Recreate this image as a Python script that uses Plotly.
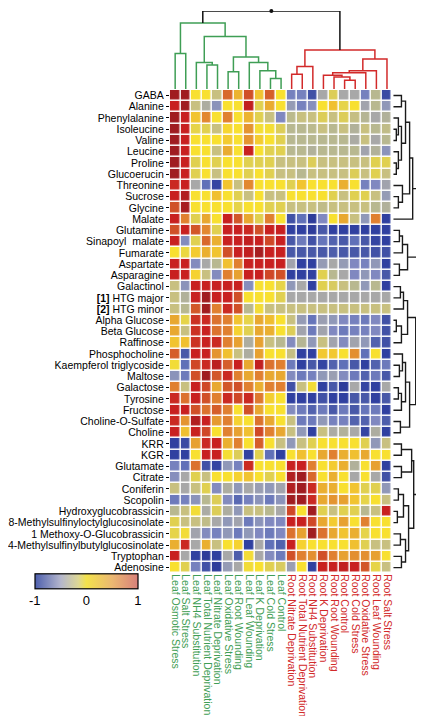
import plotly.graph_objects as go

W, H = 424, 716

# ---------------- data ----------------
conditions = [
    "Leaf Osmotic Stress", "Leaf Salt Stress", "Leaf NH4 Substitution",
    "Leaf Total Nutrient Deprivation", "Leaf Nitrate Deprivation",
    "Leaf Oxidative Stress", "Leaf Root Wounding", "Leaf Leaf Wounding",
    "Leaf K Deprivation", "Leaf Cold Stress", "Leaf Control",
    "Root Nitrate Deprivation", "Root Total Nutrient Deprivation",
    "Root NH4 Substitution", "Root K Deprivation", "Root Root Wounding",
    "Root Control", "Root Cold Stress", "Root Oxidative Stress",
    "Root Leaf Wounding", "Root Salt Stress",
]

metabolites = [
    "GABA", "Alanine", "Phenylalanine", "Isoleucine", "Valine", "Leucine",
    "Proline", "Glucoerucin", "Threonine", "Sucrose", "Glycine", "Malate",
    "Glutamine", "Sinapoyl  malate", "Fumarate", "Aspartate", "Asparagine",
    "Galactinol", "<b>[1]</b> HTG major", "<b>[2]</b> HTG minor",
    "Alpha Glucose", "Beta Glucose", "Raffinose", "Phosphocholine",
    "Kaempferol triglycoside", "Maltose", "Galactose", "Tyrosine",
    "Fructose", "Choline-O-Sulfate", "Choline", "KRR", "KGR", "Glutamate",
    "Citrate", "Coniferin", "Scopolin", "Hydroxyglucobrassicin",
    "8-Methylsulfinyloctylglucosinolate", "1 Methoxy-O-Glucobrassicin",
    "4-Methylsulfinylbutylglucosinolate", "Tryptophan", "Adenosine",
]

values = [
    [1.0, 1.0, 0.05, 0.05, -0.2, 0.65, 0.35, 0.72, 0.25, 0.68, 0.05, -0.65, -0.65, -0.85, -0.42, -0.1, -0.42, -0.42, -0.65, -0.3, -0.88],
    [0.88, 1.0, -0.2, -0.38, -0.55, 0.05, 0.05, 0.9, -0.08, 0.4, 0.05, -0.5, -0.65, -0.58, 0.05, 0.28, -0.05, 0.05, -0.45, -0.3, -0.52],
    [1.0, 0.88, 0.25, 0.55, 0.05, 0.58, 0.05, 0.35, -0.08, -0.2, -0.62, -0.28, -0.2, -0.2, -0.1, -0.2, -0.1, -0.22, -0.32, -0.42, -0.35],
    [1.0, 0.88, -0.05, -0.08, -0.2, 0.12, 0.05, 0.5, 0.03, 0.03, -0.1, -0.3, -0.3, -0.28, -0.2, -0.3, -0.2, -0.35, -0.2, -0.3, -0.25],
    [1.0, 0.88, 0.05, 0.05, 0.05, 0.2, 0.05, 0.5, 0.2, 0.05, -0.08, -0.3, -0.3, -0.3, -0.3, -0.3, -0.3, -0.4, -0.2, -0.42, -0.3],
    [1.0, 0.88, 0.05, 0.05, -0.2, 0.4, 0.05, 0.88, 0.05, -0.08, -0.08, -0.3, -0.3, -0.35, -0.3, -0.3, -0.3, -0.3, -0.45, -0.35, -0.55],
    [1.0, 0.88, -0.08, 0.05, -0.08, 0.05, 0.05, -0.08, -0.08, -0.08, -0.2, -0.2, -0.2, -0.1, -0.2, -0.2, -0.2, -0.2, -0.2, -0.08, -0.08],
    [1.0, 0.88, -0.08, 0.05, -0.2, 0.05, 0.05, -0.08, 0.05, -0.08, -0.2, -0.2, -0.3, -0.2, -0.2, -0.2, -0.2, -0.1, -0.2, -0.08, -0.2],
    [0.85, 0.88, -0.42, -0.72, -0.9, 0.25, -0.2, 0.55, 0.05, 0.05, 0.05, -0.08, 0.25, 0.05, 0.05, 0.05, 0.38, 0.05, -0.65, -0.62, -0.45],
    [0.88, 0.95, 0.05, 0.05, 0.28, 0.05, -0.08, -0.2, 0.05, -0.2, -0.2, 0.05, 0.05, 0.05, 0.05, -0.08, -0.2, -0.08, -0.08, -0.2, -0.5],
    [0.72, 0.98, 0.05, 0.05, 0.05, 0.05, -0.05, 0.05, 0.05, -0.08, -0.08, -0.2, -0.2, -0.2, -0.25, -0.2, -0.2, -0.2, -0.2, -0.3, -0.35],
    [0.88, 0.58, -0.08, 0.42, 0.05, 0.88, 0.7, 0.42, -0.08, 0.58, 0.05, -0.85, -0.72, -0.95, -0.62, 0.05, 0.42, -0.2, -0.52, 0.58, -0.92],
    [0.72, 0.88, 0.7, 0.55, -0.08, 0.88, 0.88, 0.85, 0.72, 0.88, 0.88, -0.92, -0.92, -0.95, -0.82, -0.92, -0.92, -0.92, -0.92, -0.92, -0.92],
    [0.88, -0.6, -0.08, 0.65, 0.38, 0.88, 0.88, 0.9, 0.88, 0.75, 0.88, -0.82, -0.68, -0.85, -0.7, -0.78, -0.82, -0.72, -0.82, -0.9, -0.92],
    [0.05, -0.02, 0.2, 0.38, 0.25, 0.72, 0.88, 0.9, 0.98, 0.88, 0.88, -0.82, -0.82, -0.82, -0.82, -0.8, -0.82, -0.82, -0.82, -0.85, -0.85],
    [0.88, 0.88, -0.6, -0.42, -0.3, 0.28, 0.58, 0.88, 0.88, 0.88, 0.88, -0.45, -0.92, -0.92, -0.5, -0.42, -0.5, -0.62, -0.65, -0.52, -0.92],
    [0.88, 0.88, 0.15, -0.2, -0.6, 0.58, 0.45, 0.88, 0.88, 0.75, 0.72, -0.92, -0.92, -0.92, -0.08, -0.3, -0.42, -0.62, -0.52, -0.62, -0.82],
    [-0.2, -0.55, 0.88, 0.88, 0.88, 0.88, 0.88, -0.58, 0.05, 0.05, -0.05, -0.52, -0.42, -0.92, -0.08, -0.12, -0.2, -0.3, -0.52, -0.3, -0.92],
    [-0.2, -0.35, 0.88, 1.0, 0.88, 0.88, 0.72, 0.05, 0.05, 0.05, -0.08, -0.42, -0.42, -0.42, -0.42, -0.42, -0.42, -0.42, -0.42, -0.42, -0.42],
    [-0.2, -0.3, 0.7, 1.0, 0.58, 0.85, 0.72, -0.3, 0.02, -0.2, -0.2, -0.2, -0.2, -0.2, -0.2, -0.2, -0.2, -0.2, -0.2, -0.2, -0.2],
    [0.42, -0.05, 0.82, 0.85, 0.62, 0.58, 0.25, -0.05, 0.42, 0.3, 0.05, -0.2, -0.5, -0.7, -0.48, -0.52, -0.62, -0.65, -0.68, -0.62, -0.85],
    [0.42, -0.2, 0.82, 0.88, 0.62, 0.58, 0.15, -0.08, 0.42, 0.38, 0.05, -0.1, -0.45, -0.68, -0.45, -0.62, -0.68, -0.65, -0.65, -0.62, -0.85],
    [0.25, 0.28, 0.82, 0.88, 0.85, 0.58, 0.45, -0.38, 0.45, -0.2, -0.3, -0.6, -0.32, -0.52, -0.2, -0.45, -0.6, -0.45, -0.52, -0.78, -0.85],
    [0.68, -0.82, 0.88, 0.88, 0.5, 0.28, -0.2, -0.38, 0.45, 0.05, 0.05, -0.22, -0.92, -0.92, 0.22, 0.22, 0.05, 0.52, -0.72, 0.05, -0.92],
    [0.02, -0.72, 0.75, 0.85, 0.92, 0.68, 0.88, 0.42, 0.9, 0.62, 0.58, -0.68, -0.92, -0.82, -0.9, -0.78, -0.72, -0.82, -0.92, -0.78, -0.68],
    [-0.55, -0.68, 0.72, 1.0, 0.7, 0.85, 0.58, 0.42, 0.58, 0.42, 0.42, -0.6, -0.68, -0.65, -0.52, -0.48, -0.6, -0.68, -0.78, -0.68, -0.82],
    [0.58, -0.2, 0.88, 0.75, 0.42, 0.7, 0.72, 0.58, 0.38, 0.58, 0.58, -0.85, -0.2, 0.02, -0.92, -0.82, -0.95, -0.42, -0.9, -0.92, -0.42],
    [0.85, 0.62, 0.88, 0.72, 0.58, 0.85, 0.75, 0.85, 0.6, 0.18, 0.05, -0.92, -0.92, -0.92, -0.85, -0.92, -0.92, -0.82, -0.82, -0.92, -0.82],
    [0.88, 0.88, 0.72, 0.62, 0.68, 0.58, 0.05, 0.72, 0.42, 0.05, 0.05, -0.6, -0.68, -0.78, -0.68, -0.82, -0.68, -0.82, -0.7, -0.68, -0.92],
    [0.85, 0.5, 0.95, 0.88, 0.48, 0.58, 0.15, 0.05, 0.62, 0.42, 0.05, -0.2, -0.68, -0.68, -0.52, -0.65, -0.65, -0.78, -0.78, -0.62, -0.8],
    [0.88, 0.28, 0.88, 0.75, 0.05, 0.58, 0.45, 0.28, 0.75, 0.58, 0.42, -0.2, -0.52, -0.92, -0.2, -0.4, -0.35, -0.42, -0.9, -0.38, -0.92],
    [-0.92, -0.88, 0.45, 0.85, 0.88, 0.38, 0.58, 0.05, 0.68, 0.05, -0.2, -0.52, -0.2, -0.08, 0.05, 0.05, 0.05, 0.05, -0.08, -0.52, -0.2],
    [-0.92, -0.92, 0.05, 0.88, 0.88, 0.03, -0.1, -0.92, -0.08, -0.72, -0.92, 0.05, 0.28, 0.05, 0.42, 0.58, 0.38, 0.28, 0.42, 0.05, 0.05],
    [-0.65, -0.72, 0.62, -0.85, -0.9, -0.52, -0.65, 0.85, 0.05, 0.05, 0.05, 0.88, 0.88, 0.58, 0.05, 0.2, 0.38, -0.35, 0.05, 0.45, -0.92],
    [-0.58, -0.42, -0.08, -0.2, 0.05, 0.05, 0.15, 0.25, 0.05, -0.08, 0.05, 0.95, 1.0, 0.65, 0.05, 0.38, 0.05, -0.42, 0.05, -0.42, -0.85],
    [-0.2, -0.42, -0.2, -0.08, -0.6, -0.38, -0.52, -0.42, -0.48, -0.52, -0.45, 0.95, 1.0, 0.85, 0.38, 0.38, 0.05, 0.25, -0.08, -0.08, -0.52],
    [-0.68, -0.65, -0.55, -0.3, -0.1, -0.6, -0.75, -0.65, -0.55, -0.68, -0.55, 1.0, 1.0, 0.85, 0.42, 0.5, 0.45, 0.25, -0.05, 0.05, -0.2],
    [-0.3, -0.2, 0.02, -0.4, -0.1, -0.38, -0.52, -0.2, -0.2, -0.3, -0.42, 0.75, 0.05, 1.0, -0.08, -0.2, -0.08, -0.08, -0.3, -0.2, 0.88],
    [-0.08, -0.2, -0.2, -0.25, -0.42, -0.52, -0.45, -0.68, -0.55, -0.62, -0.62, 0.88, 0.88, 0.75, 0.42, 0.2, 0.45, 0.05, 0.58, 0.05, 0.05],
    [-0.05, 0.02, -0.45, -0.6, -0.65, -0.52, -0.68, -0.52, -0.62, -0.68, -0.62, 0.62, 0.45, 1.0, 0.62, 0.42, 0.25, 0.38, -0.05, 0.05, 0.05],
    [0.38, 0.85, -0.42, 0.38, -0.2, 0.05, 0.15, -0.92, -0.42, -0.72, -0.78, 0.88, 0.15, 0.05, 0.05, 0.05, 0.05, 0.28, -0.08, -0.2, -0.2],
    [0.88, -0.42, -0.92, -0.95, -0.92, -0.42, -0.8, 0.02, -0.42, -0.6, -0.68, 0.72, 0.58, 0.52, 0.72, 0.58, 0.45, 0.52, 0.52, 0.45, 0.05],
    [0.05, -0.08, -0.65, -0.85, -0.95, -0.5, -0.42, 0.02, 0.05, -0.08, -0.12, -0.48, 0.05, -0.92, 0.88, 0.88, 0.9, 0.88, 0.7, -0.05, -0.2],
]

# linkage of the conditions (left id, right id, height); leaves 0..20, nodes 21..
col_linkage = [
    (0, 1, 0.454), (3, 4, 0.308), (2, 22, 0.339), (5, 6, 0.220),
    (9, 10, 0.132), (8, 25, 0.233), (7, 26, 0.339), (24, 27, 0.410),
    (23, 28, 0.674), (21, 29, 0.846),
    (11, 12, 0.189), (31, 13, 0.286), (16, 17, 0.110), (15, 33, 0.154),
    (14, 34, 0.176), (35, 18, 0.207), (36, 19, 0.233), (37, 20, 0.383),
    (32, 38, 0.498), (30, 39, 1.0),
]

# linkage of the metabolites; leaves 0..42, nodes 43..
row_linkage = [
    (0, 1, 8), (3, 4, 3), (2, 44, 5), (6, 7, 3), (5, 46, 5), (45, 47, 8),
    (43, 48, 12), (9, 10, 5), (8, 50, 9), (49, 51, 16), (52, 11, 19),
    (12, 13, 6), (54, 14, 9), (15, 16, 6), (55, 56, 14), (53, 57, 26),
    (17, 18, 7), (59, 19, 10), (20, 21, 3), (61, 22, 8), (60, 62, 14),
    (24, 25, 6), (23, 64, 9), (26, 27, 5), (66, 28, 8), (65, 67, 12),
    (29, 30, 7), (68, 69, 16), (63, 70, 22),
    (31, 32, 8), (33, 34, 8), (72, 73, 18), (35, 36, 5), (37, 38, 4),
    (75, 76, 10), (39, 40, 7), (41, 42, 8), (78, 79, 12), (77, 80, 15),
    (74, 81, 20), (71, 82, 28), (58, 83, 35),
]

colorbar_ticks = [-1, 0, 1]

# ---------------- styles ----------------
GREEN = "#3f9e55"
RED = "#d22a2a"
FONT = "Arial, Liberation Sans, sans-serif"

heat_scale = [
    [0.00, "#2a3590"], [0.04, "#3040a0"], [0.09, "#4858a8"], [0.14, "#6070b8"],
    [0.19, "#8088c0"], [0.24, "#9098b8"], [0.29, "#a8a8a8"], [0.35, "#b8b890"],
    [0.40, "#c8c080"], [0.46, "#e0d050"], [0.525, "#f8e030"], [0.64, "#f0c030"],
    [0.71, "#e8a830"], [0.79, "#e08030"], [0.86, "#d05028"], [0.94, "#c82020"],
    [1.00, "#a01c20"],
]
bar_scale = [
    [0.0, "#4d5fae"], [0.25, "#b4b6cc"], [0.42, "#ddd796"], [0.5, "#f3e24c"],
    [0.75, "#ebb872"], [1.0, "#d8807a"],
]


def px_x(p):
    return p / W


def px_y(p):
    return 1 - p / H


def dendro(linkage, n):
    pos = {i: float(i) for i in range(n)}
    hgt = {i: 0.0 for i in range(n)}
    members = {i: {i} for i in range(n)}
    segs = []
    for k, (a, b, h) in enumerate(linkage):
        node = n + k
        pos[node] = (pos[a] + pos[b]) / 2
        hgt[node] = h
        members[node] = members[a] | members[b]
        segs.append((members[node], [pos[a], pos[a], pos[b], pos[b]],
                     [hgt[a], h, h, hgt[b]]))
    return segs, pos[n + len(linkage) - 1], hgt[n + len(linkage) - 1]


fig = go.Figure()

nrow, ncol = len(metabolites), len(conditions)
fig.add_trace(go.Heatmap(
    z=values, x=list(range(ncol)), y=list(range(nrow)),
    colorscale=heat_scale, zmin=-1, zmax=1, xgap=1.5, ygap=1.5,
    showscale=False, hoverinfo="skip",
))

# column dendrogram
segs, root_pos, root_h = dendro(col_linkage, ncol)
groups = {}
for mem, xs, ys in segs:
    tis = {conditions[i].split()[0] for i in mem}
    color = (GREEN if tis == {"Leaf"} else RED) if len(tis) == 1 else "#111111"
    gx, gy = groups.setdefault(color, ([], []))
    gx.extend(xs + [None])
    gy.extend(ys + [None])
for color, (gx, gy) in groups.items():
    fig.add_trace(go.Scatter(x=gx, y=gy, mode="lines", xaxis="x2", yaxis="y2",
                             line=dict(color=color, width=1.5),
                             hoverinfo="skip", showlegend=False))
fig.add_trace(go.Scatter(x=[root_pos], y=[root_h], mode="markers", xaxis="x2", yaxis="y2",
                         marker=dict(color="#111111", size=4), hoverinfo="skip",
                         showlegend=False, cliponaxis=False))

# row dendrogram
segs, _, _ = dendro(row_linkage, nrow)
rx, ry = [], []
for mem, ps, hs in segs:
    rx.extend(hs + [None])
    ry.extend(ps + [None])
fig.add_trace(go.Scatter(x=rx, y=ry, mode="lines", xaxis="x3", yaxis="y3",
                         line=dict(color="#1a1a1a", width=1.4),
                         hoverinfo="skip", showlegend=False, cliponaxis=False))

# colour bar (paler scale, as drawn in the legend of the figure)
fig.add_trace(go.Scatter(
    x=[0], y=[0.5], mode="markers", xaxis="x2", yaxis="y2",
    marker=dict(size=1, opacity=0, color=[0], cmin=-1, cmax=1,
                colorscale=bar_scale, showscale=True,
                colorbar=dict(orientation="h", x=px_x(25), xanchor="left",
                              y=px_y(597), yanchor="bottom",
                              len=103, lenmode="pixels", thickness=15,
                              thicknessmode="pixels", xpad=0, ypad=0,
                              outlinecolor="black", outlinewidth=1.2,
                              tickvals=colorbar_ticks,
                              ticktext=[str(t) for t in colorbar_ticks],
                              ticks="", tickfont=dict(size=13, color="black", family=FONT))),
    hoverinfo="skip", showlegend=False))

col_text = [
    f'<span style="color:{GREEN if c.startswith("Leaf") else RED}">{c}</span>'
    for c in conditions
]

heat_x = [px_x(161), px_x(385)]
heat_y = [px_y(565), px_y(81)]

fig.update_layout(
    width=W, height=H, autosize=False,
    margin=dict(l=0, r=0, t=0, b=0),
    paper_bgcolor="white", plot_bgcolor="white",
    font=dict(family=FONT, color="black", size=10),
    showlegend=False,
    xaxis=dict(domain=heat_x, range=[-0.5, ncol - 0.5], tickvals=list(range(ncol)),
               ticktext=col_text, tickangle=90, ticks="", showgrid=False,
               zeroline=False, showline=False, tickfont=dict(size=10.5, family=FONT)),
    yaxis=dict(domain=heat_y, range=[nrow - 0.5, -0.5], tickvals=list(range(nrow)),
               ticktext=metabolites, ticks="outside", ticklen=3, tickwidth=1.3,
               tickcolor="black", showgrid=False, zeroline=False, showline=False,
               tickfont=dict(size=10.5, family=FONT)),
    xaxis2=dict(domain=heat_x, range=[-0.5, ncol - 0.5], visible=False, anchor="y2"),
    yaxis2=dict(domain=[px_y(80), px_y(2)], range=[0, 1.0], visible=False, anchor="x2"),
    xaxis3=dict(domain=[px_x(386), px_x(422)], range=[0, 35], visible=False, anchor="y3"),
    yaxis3=dict(domain=heat_y, range=[nrow - 0.5, -0.5], visible=False, anchor="x3"),
)

fig.write_html("out.html")
